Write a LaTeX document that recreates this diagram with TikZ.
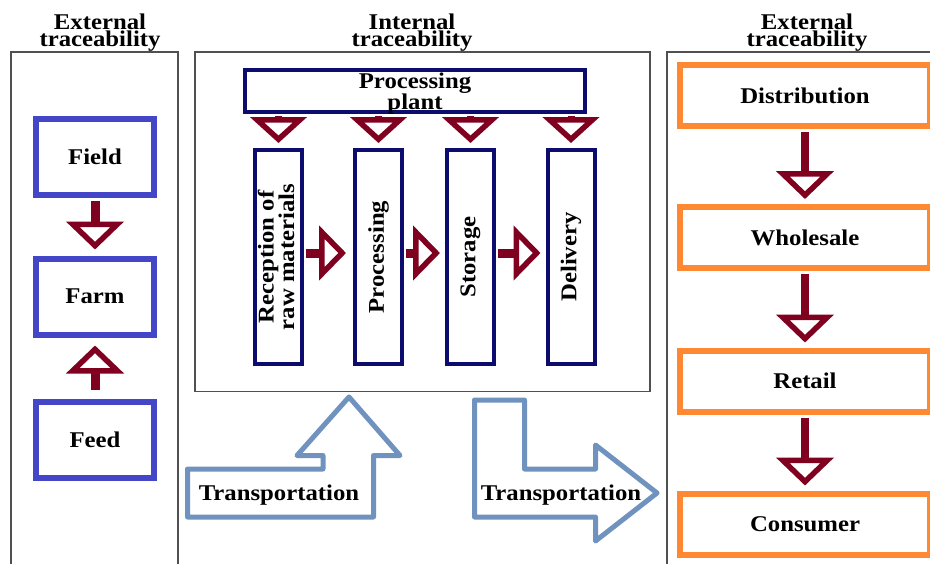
\documentclass[tikz,border=0pt]{standalone}
\usepackage{fontspec}
\setmainfont{Liberation Serif}[FakeStretch=1.1]
\usetikzlibrary{arrows.meta}
\definecolor{blueboxc}{RGB}{68,70,200}
\definecolor{navyboxc}{RGB}{12,12,110}
\definecolor{arrowred}{RGB}{128,0,32}
\definecolor{orangeboxc}{RGB}{255,136,51}
\definecolor{steelc}{RGB}{112,146,190}
\definecolor{panelgray}{RGB}{80,80,80}
\begin{document}
\begin{tikzpicture}[x=1pt,y=-1pt,
  lbl/.style={font=\bfseries\fontsize{22.5}{17}\selectfont, text=black, align=center, inner sep=0pt},
  hdr/.style={lbl, font=\bfseries\fontsize{22.5}{17.5}\selectfont},
  bluebox/.style={lbl, draw=blueboxc, line width=6pt, minimum width=118pt, minimum height=76pt},
  navybox/.style={lbl, draw=navyboxc, line width=4pt},
  colbox/.style={navybox, minimum width=47pt, minimum height=214pt},
  orangebox/.style={lbl, draw=orangeboxc, line width=6pt, minimum width=250pt, minimum height=61pt},
  panel/.style={draw=panelgray, line width=1.5pt},
  redarrow/.style={draw=arrowred, line width=9pt, -{Triangle[open,length=28pt,width=57pt,line width=5.5pt]}},
  reddown/.style={draw=arrowred, line width=7pt, -{Triangle[open,length=26pt,width=56pt,line width=5.5pt]}},
  redright/.style={draw=arrowred, line width=9pt, -{Triangle[open,length=27pt,width=54pt,line width=5.5pt]}},
  redarrowR/.style={draw=arrowred, line width=8pt, -{Triangle[open,length=28pt,width=57pt,line width=5.5pt]}},
  transp/.style={draw=steelc, line width=5pt, line join=round, fill=white},
]
\useasboundingbox (0,0) rectangle (930,563);
\clip (0,0) rectangle (930,563);
\fill[white] (0,0) rectangle (930,563);

% panels
\draw[panel] (11,580) -- (11,52) -- (178,52) -- (178,580);
\draw[panel] (195,52) rectangle (650,391.5);
\draw[panel] (667,580) -- (667,52) -- (945,52);

% headers
\node[hdr] (hleft) at (100,32.5) {External\\traceability};
\node[hdr] (hmid) at (412,32.5) {Internal\\traceability};
\node[hdr] (hright) at (807,32.5) {External\\traceability};

% left panel
\node[bluebox] (field) at (95,156.5) {Field};
\node[bluebox] (farm) at (95,296.5) {Farm};
\node[bluebox] (feed) at (95,439.5) {Feed};
\draw[redarrow, shorten <=3pt, shorten >=6pt] (field.south) -- (farm.north);
\draw[redarrow, shorten <=9pt, shorten >=8pt] (feed.north) -- (farm.south);

% middle panel
\node[navybox, minimum width=340pt, minimum height=38pt] (plant) at (415,91) {\raisebox{-3pt}[\height][\depth]{\begin{tabular}{@{}c@{}}Processing\\plant\end{tabular}}};
\node[colbox] (rec) at (278.5,257) {\rotatebox{90}{\begin{tabular}{@{}c@{}}Reception of\\raw materials\end{tabular}}};
\node[colbox] (proc) at (378.5,257) {\rotatebox{90}{Processing}};
\node[colbox] (stor) at (470.5,257) {\rotatebox{90}{Storage}};
\node[colbox] (deliv) at (571,257) {\rotatebox{90}{Delivery}};
\foreach \c in {rec,proc,stor,deliv}{
  \draw[reddown, shorten <=2pt, shorten >=5pt] (plant.south -| \c.north) -- (\c.north);
}
\draw[redright, shorten <=2pt, shorten >=7pt] ([yshift=4pt]rec.east) -- ([yshift=4pt]proc.west);
\draw[redright, shorten <=2pt, shorten >=5pt] ([yshift=4pt]proc.east) -- ([yshift=4pt]stor.west);
\draw[redright, shorten <=2pt, shorten >=5pt] ([yshift=4pt]stor.east) -- ([yshift=4pt]deliv.west);

% transportation arrows
\draw[transp] (187.5,517) -- (187.5,469) -- (323,469) -- (323,455.5) -- (297,455.5) -- (349,397) -- (400,455.5) -- (373.5,455.5) -- (373.5,517) -- cycle;
\draw[transp] (474.5,400) -- (524.5,400) -- (524.5,469) -- (595.5,469) -- (595.5,445) -- (657,493) -- (595.5,541) -- (595.5,517) -- (474.5,517) -- cycle;
\node[lbl, anchor=base] (trans1) at (279,500) {Transportation};
\node[lbl, anchor=base] (trans2) at (561,500) {Transportation};

% right panel
\node[orangebox] (dist) at (805,95.5) {Distribution};
\node[orangebox] (whole) at (805,237.5) {Wholesale};
\node[orangebox] (retail) at (805,381) {Retail};
\node[orangebox] (cons) at (805,524) {Consumer};
\draw[redarrowR, shorten <=3pt, shorten >=5pt] (dist.south) -- (whole.north);
\draw[redarrowR, shorten <=3pt, shorten >=5pt] (whole.south) -- (retail.north);
\draw[redarrowR, shorten <=3pt, shorten >=5pt] (retail.south) -- (cons.north);
\end{tikzpicture}
\end{document}
